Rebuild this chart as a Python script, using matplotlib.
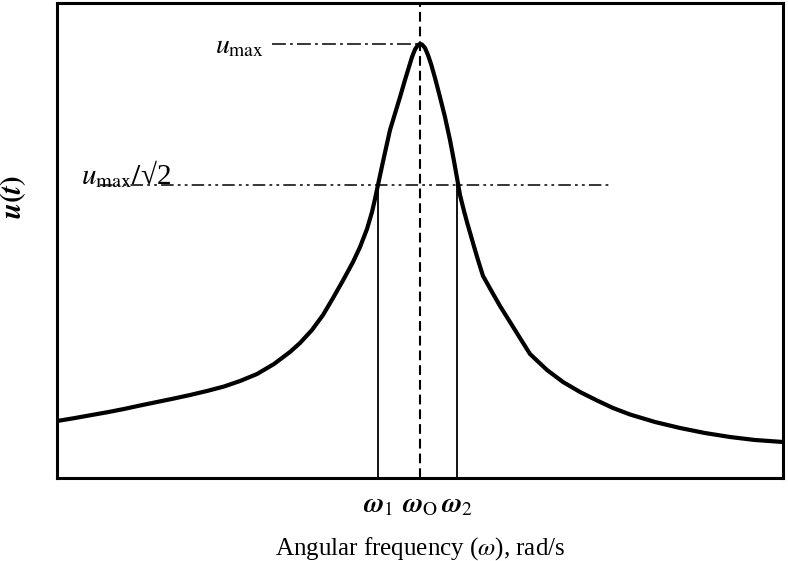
import numpy as np
import matplotlib
matplotlib.use('Agg')
import matplotlib.pyplot as plt

plt.rcParams['font.family'] = ['Liberation Serif', 'DejaVu Serif']
plt.rcParams['mathtext.fontset'] = 'stix'
plt.rcParams['lines.scale_dashes'] = False

# resonance curve (arbitrary units)
omega = [0.000, 0.234, 0.455, 0.689, 0.923, 1.143, 1.377, 1.612, 1.832,
         2.066, 2.300, 2.521, 2.755, 2.989, 3.209, 3.347, 3.512, 3.664,
         3.802, 3.939, 4.077, 4.174, 4.270, 4.339, 4.380, 4.421, 4.504,
         4.587, 4.656, 4.725, 4.793, 4.848, 4.890, 4.931, 4.972, 5.000,
         5.028, 5.069, 5.110, 5.152, 5.207, 5.275, 5.344, 5.413, 5.468,
         5.510, 5.551, 5.606, 5.647, 5.730, 5.799, 5.868, 5.992, 6.102,
         6.240, 6.377, 6.515, 6.749, 6.970, 7.204, 7.438, 7.658, 7.893,
         8.237, 8.581, 8.926, 9.270, 9.614, 10.000]
u = [1.200, 1.259, 1.320, 1.383, 1.453, 1.526, 1.600, 1.674, 1.747,
     1.832, 1.926, 2.042, 2.189, 2.400, 2.653, 2.842, 3.116, 3.432,
     3.789, 4.158, 4.547, 4.863, 5.242, 5.600, 5.874, 6.168, 6.758,
     7.326, 7.674, 8.021, 8.379, 8.653, 8.863, 9.021, 9.116, 9.137,
     9.126, 9.053, 8.905, 8.716, 8.421, 8.021, 7.600, 7.116, 6.674,
     6.316, 5.958, 5.621, 5.389, 4.947, 4.589, 4.253, 3.916, 3.621,
     3.284, 2.947, 2.611, 2.274, 2.021, 1.811, 1.632, 1.474, 1.337,
     1.179, 1.053, 0.947, 0.863, 0.800, 0.758]

w1, w0, w2 = 4.42, 5.00, 5.51
u_max = 9.14
u_half = 6.17
tick_labels = [r'$\boldsymbol{\omega}_1$', r'$\boldsymbol{\omega}_{\mathrm{O}}$', r'$\boldsymbol{\omega}_2$']

fig = plt.figure(figsize=(7.88, 5.61), dpi=100)
ax = fig.add_axes([57/788, 1-478/561, 726/788, 475/561])
ax.set_xlim(0, 10)
ax.set_ylim(0, 10)

ax.plot(omega, u, color='black', lw=3.0, solid_joinstyle='round',
        solid_capstyle='butt')

# guide lines
ax.plot([w0, w0], [0, 10], color='black', lw=1.5, linestyle=(0, (7, 3.6)))
ax.plot([2.96, w0], [u_max, u_max], color='black', lw=1.1,
        linestyle=(0, (10, 3, 2, 3)))
ax.plot([0.59, 7.64], [u_half, u_half], color='black', lw=1.1,
        linestyle=(0, (9, 3, 2, 3, 2, 3)))
ax.plot([w1, w1], [0, u_half], color='black', lw=1.3)
ax.plot([w2, w2], [0, u_half], color='black', lw=1.3)

ax.text(2.85, 9.08, r'$u_{\max}$', fontsize=20, ha='right', va='center')
ax.text(0.33, 6.4, r'$u_{\max}/$√2', fontsize=21, ha='left', va='center')
ax.text(-0.6, 5.92, r'$\boldsymbol{u(t)}$', fontsize=21, rotation=90,
        ha='center', va='center')

ax.set_xticks([w1, w0, w2])
ax.set_xticklabels(tick_labels, fontsize=20)
ax.tick_params(axis='x', length=0, pad=11)
ax.set_yticks([])
ax.set_xlabel(r'Angular frequency ($\omega$), rad/s', fontsize=18, labelpad=12)

for s in ax.spines.values():
    s.set_linewidth(2.2)

fig.savefig('out.png', dpi=100)
